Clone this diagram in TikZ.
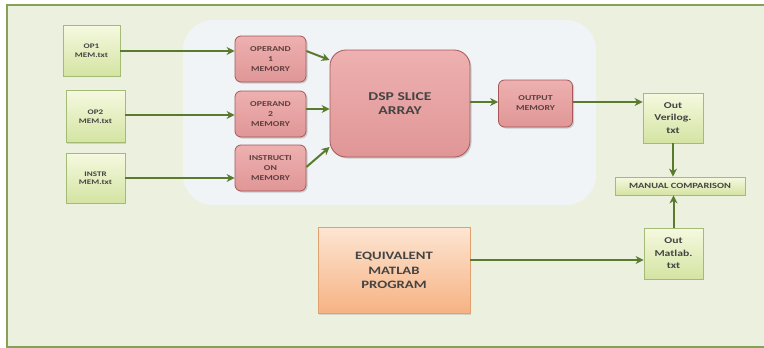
\documentclass[tikz,border=0pt]{standalone}
\usepackage{fontspec}
\setmainfont{Carlito}
\newfontfamily\widefont[FakeStretch=1.3]{Carlito}
\usetikzlibrary{arrows.meta,shadows}
\definecolor{bgGreen}{HTML}{EBF1DE}
\definecolor{frameGreen}{HTML}{86A155}
\definecolor{panel}{HTML}{F1F4F7}
\definecolor{pinkTop}{HTML}{EEB0B0}
\definecolor{pinkBot}{HTML}{E09696}
\definecolor{pinkDraw}{HTML}{A65858}
\definecolor{gTop}{HTML}{F5F9E0}
\definecolor{gBot}{HTML}{D4E4A2}
\definecolor{gDraw}{HTML}{A3BB74}
\definecolor{arrowGreen}{HTML}{5A7A2E}
\definecolor{oTop}{HTML}{FDE5D2}
\definecolor{oBot}{HTML}{F6B283}
\definecolor{oDraw}{HTML}{E0A070}
\definecolor{txt}{HTML}{444444}
\definecolor{ptxt}{HTML}{5E3E3E}
\tikzset{
  x=1pt, y=-1pt,
  gbox/.style={draw=gDraw, line width=0.8pt, top color=gTop, bottom color=gBot,
    align=center, text=txt, inner sep=1pt,
    drop shadow={shadow xshift=1pt, shadow yshift=-1pt, opacity=0.25}},
  pbox/.style={draw=pinkDraw, line width=0.8pt, top color=pinkTop, bottom color=pinkBot,
    rounded corners=6pt, align=center, text=ptxt, inner sep=1pt,
    drop shadow={shadow xshift=1.5pt, shadow yshift=-1.5pt, opacity=0.35}},
  obox/.style={draw=oDraw, line width=0.6pt, top color=oTop, bottom color=oBot,
    align=center, text=txt, inner sep=1pt,
    drop shadow={shadow xshift=1pt, shadow yshift=-1pt, opacity=0.25}},
  conn/.style={draw=arrowGreen, line width=2pt,
    -{Stealth[length=8pt,width=8pt,inset=2.5pt]}},
  fsmall/.style={font=\widefont\bfseries\fontsize{7}{8.5}\selectfont},
  fpink/.style={font=\widefont\bfseries\fontsize{7.5}{10}\selectfont},
  fout/.style={font=\widefont\bfseries\fontsize{9}{12.5}\selectfont},
}
\begin{document}
\begin{tikzpicture}
\useasboundingbox (0,0) rectangle (764,348);
\fill[white] (0,0) rectangle (764,348);
\fill[bgGreen] (7,5) rectangle (764,347);
\draw[frameGreen, line width=1.8pt] (764,5) -- (7,5) -- (7,347) -- (764,347);
\path[fill=panel, rounded corners=30pt] (183,20) rectangle (596,205);

\node[gbox, fsmall, minimum width=57pt, minimum height=51pt] (op1) at (91.5,50.5) {OP1\\MEM.txt};
\node[gbox, fsmall, minimum width=59pt, minimum height=52pt] (op2) at (95.5,116.5) {OP2\\MEM.txt};
\node[gbox, fsmall, minimum width=59pt, minimum height=50pt] (instr) at (95.5,178) {INSTR\\MEM.txt};

\node[pbox, fpink, minimum width=71pt, minimum height=46pt] (m1) at (270.5,59) {OPERAND\\1\\MEMORY};
\node[pbox, fpink, minimum width=71pt, minimum height=46pt] (m2) at (270.5,114) {OPERAND\\2\\MEMORY};
\node[pbox, fpink, minimum width=71pt, minimum height=46pt] (mi) at (270.5,168) {INSTRUCTI\\ON\\MEMORY};

\node[pbox, rounded corners=16pt, minimum width=140pt, minimum height=107pt, text=txt, font=\widefont\bfseries\fontsize{12}{14}\selectfont] (dsp) at (400,103.5) {DSP SLICE\\ARRAY};
\node[pbox, fpink, minimum width=74pt, minimum height=47pt] (outm) at (535.5,103.5) {OUTPUT\\MEMORY};

\node[gbox, fout, minimum width=60pt, minimum height=50pt] (ver) at (673,118) {Out\\Verilog.\\txt};
\node[gbox, minimum width=130pt, minimum height=18pt, font=\widefont\bfseries\fontsize{8}{9}\selectfont] (man) at (680,186) {MANUAL COMPARISON};
\node[gbox, fout, minimum width=59pt, minimum height=51pt] (mat) at (673.5,253.5) {Out\\Matlab.\\txt};

\node[obox, minimum width=152pt, minimum height=86pt, font=\widefont\bfseries\fontsize{11.3}{14.5}\selectfont] (eq) at (394,270.5) {EQUIVALENT\\MATLAB\\PROGRAM};

\draw[conn] (op1.east |- 0,51) -- (m1.west |- 0,51);
\draw[conn] (op2.east |- 0,115) -- (m2.west |- 0,115);
\draw[conn] (instr.east |- 0,178) -- (mi.west |- 0,178);
\draw[conn] (m1.east |- 0,51) -- (dsp.west |- 0,60);
\draw[conn] (m2.east |- 0,109) -- (dsp.west |- 0,109);
\draw[conn] (mi.east |- 0,167) -- (dsp.west |- 0,147);
\draw[conn] (dsp.east |- 0,102) -- (outm.west |- 0,102);
\draw[conn] (outm.east |- 0,102) -- (ver.west |- 0,102);
\draw[conn] (ver.south) -- (man.north -| ver.south);
\draw[conn] (mat.north) -- (man.south -| mat.north);
\draw[conn] (eq.east |- 0,260) -- (mat.west |- 0,260);
\end{tikzpicture}
\end{document}
